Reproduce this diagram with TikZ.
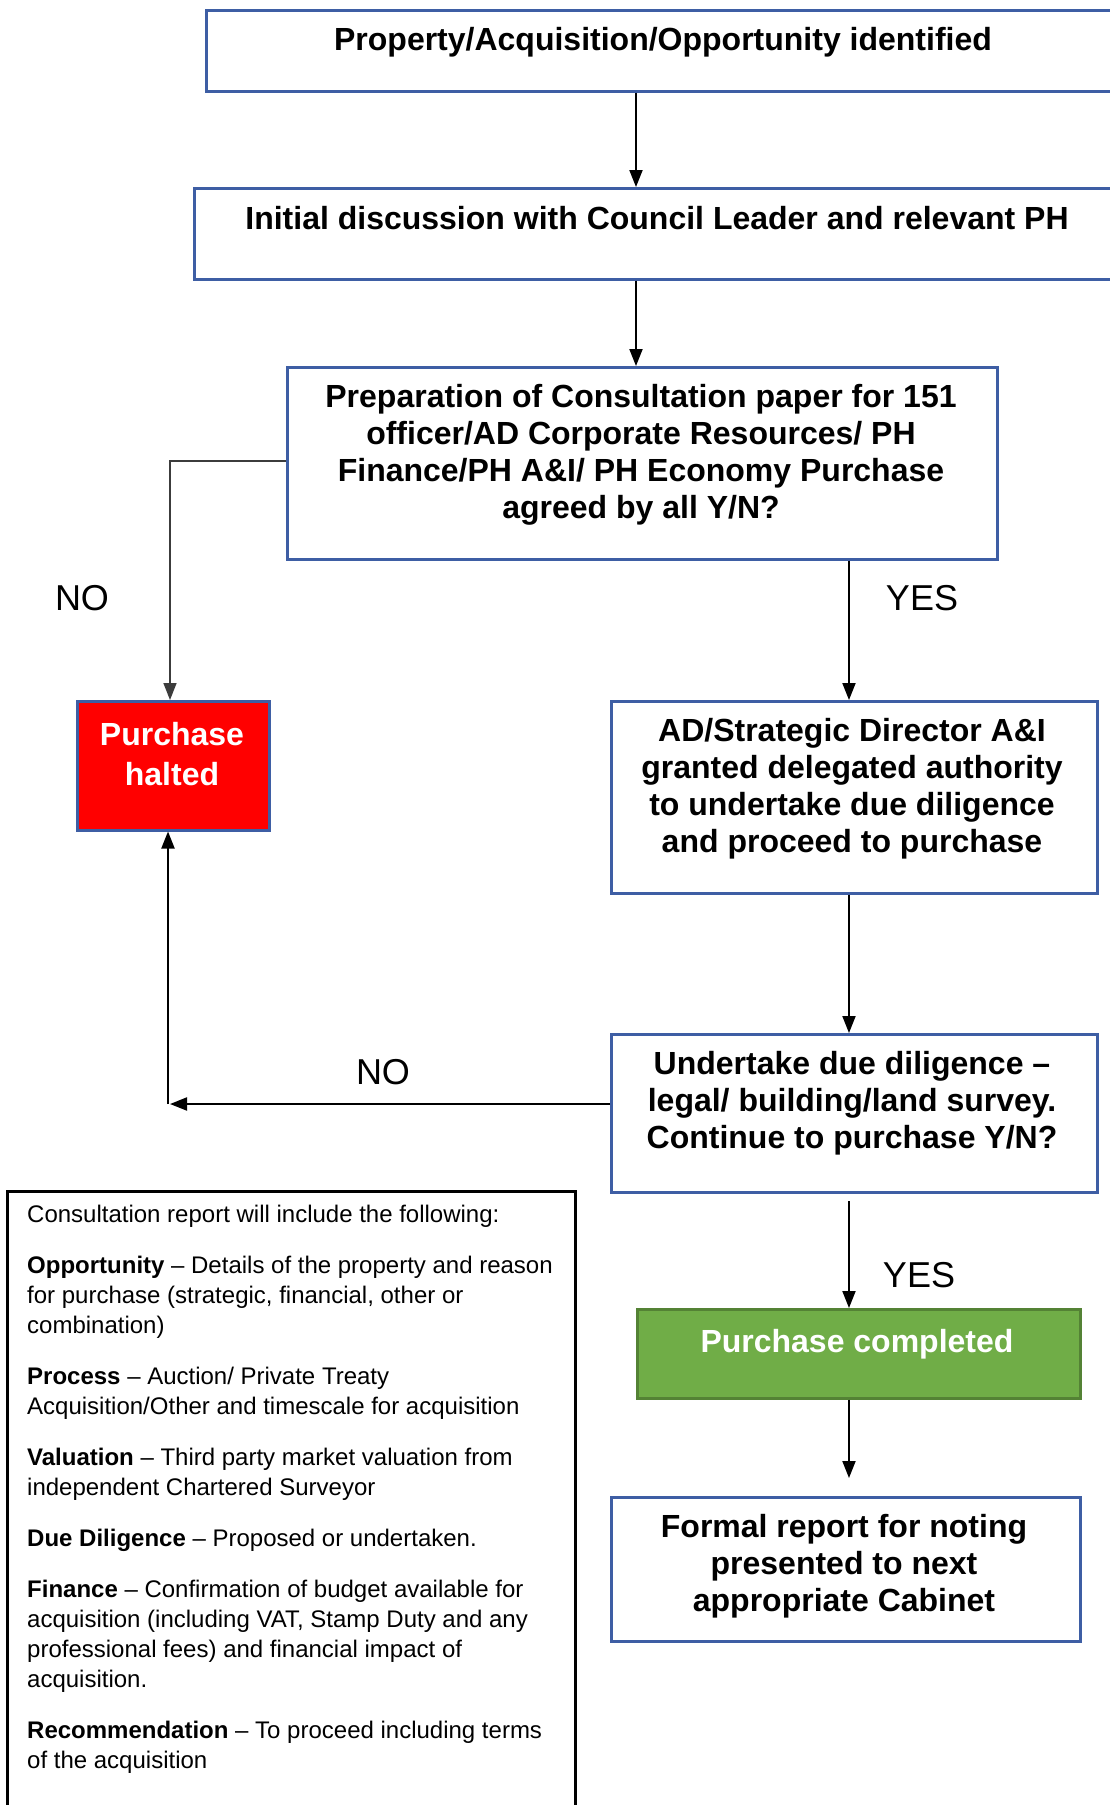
\documentclass[tikz,border=0pt]{standalone}
\usepackage{fontspec}
\setmainfont{Liberation Sans}
\usetikzlibrary{arrows.meta}
\definecolor{boxblue}{RGB}{62,94,164}
\definecolor{greenfill}{RGB}{112,173,71}
\definecolor{greenedge}{RGB}{84,130,53}
\definecolor{redfill}{RGB}{255,0,0}
\tikzset{
 bluebox/.style={draw=boxblue, line width=2.5pt, fill=white, rectangle, inner sep=0pt, anchor=north west},
 boxtext/.style={font=\bfseries\fontsize{32}{37}\selectfont, align=center, inner sep=0pt},
 lbl/.style={font=\fontsize{36}{40}\selectfont, inner sep=0pt},
 arr/.style={line width=2pt, -{Triangle[length=17pt,width=13pt]}},
}
\begin{document}
\begin{tikzpicture}[x=1pt,y=-1pt]
\useasboundingbox (0,0) rectangle (1110,1805);
\clip (0,0) rectangle (1110,1805);
\fill[white] (0,0) rectangle (1110,1805);
% boxes
\node[bluebox, minimum width=916pt, minimum height=81pt] (b1) at (205,9) {};
\node[bluebox, minimum width=928pt, minimum height=91pt] (b2) at (193,187) {};
\node[bluebox, minimum width=710pt, minimum height=192pt] (b3) at (286,366) {};
\node[bluebox, fill=redfill, minimum width=192pt, minimum height=129pt] (halt) at (76,700) {};
\node[bluebox, minimum width=486pt, minimum height=192pt] (ad) at (610,700) {};
\node[bluebox, minimum width=486pt, minimum height=158pt] (ud) at (610,1033) {};
\node[bluebox, draw=greenedge, fill=greenfill, minimum width=443pt, minimum height=89pt] (done) at (636,1308) {};
\node[bluebox, minimum width=469pt, minimum height=144pt] (formal) at (610,1496) {};
\node[draw=black, line width=3pt, rectangle, inner sep=0pt, anchor=north west, minimum width=568pt, minimum height=640pt] (cons) at (6,1190) {};
% texts
\node[boxtext] (t1) at (663,42) {Property/Acquisition/Opportunity identified};
\node[boxtext] (t2) at (657,218) {Initial discussion with Council Leader and relevant PH};
\node[boxtext] (t3) at (641,455) {Preparation of Consultation paper for 151\\officer/AD Corporate Resources/ PH\\Finance/PH A\&I/ PH Economy Purchase\\agreed by all Y/N?};
\node[boxtext, text=white, font=\bfseries\fontsize{32}{40}\selectfont] (th) at (172,754) {Purchase\\halted};
\node[boxtext] (tad) at (852,789) {AD/Strategic Director A\&I\\granted delegated authority\\to undertake due diligence\\and proceed to purchase};
\node[boxtext] (tud) at (852,1103) {Undertake due diligence --\\legal/ building/land survey.\\Continue to purchase Y/N?};
\node[boxtext, text=white] (tdone) at (857,1344) {Purchase completed};
\node[boxtext] (tf) at (844,1566) {Formal report for noting\\presented to next\\appropriate Cabinet};
\node[inner sep=0pt, anchor=north west, align=left, font=\fontsize{24}{30}\selectfont] (tc) at (27,1205) {Consultation report will include the following:\\[21pt]
\textbf{Opportunity} -- Details of the property and reason\\
for purchase (strategic, financial, other or\\
combination)\\[21pt]
\textbf{Process} -- Auction/ Private Treaty\\
Acquisition/Other and timescale for acquisition\\[21pt]
\textbf{Valuation} -- Third party market valuation from\\
independent Chartered Surveyor\\[21pt]
\textbf{Due Diligence} -- Proposed or undertaken.\\[21pt]
\textbf{Finance} -- Confirmation of budget available for\\
acquisition (including VAT, Stamp Duty and any\\
professional fees) and financial impact of\\
acquisition.\\[21pt]
\textbf{Recommendation} -- To proceed including terms\\
of the acquisition};
% labels
\node[lbl] (no1) at (82,598) {NO};
\node[lbl] (yes1) at (922,598) {YES};
\node[lbl] (no2) at (383,1072) {NO};
\node[lbl] (yes2) at (919,1275) {YES};
% connectors
\coordinate (x1) at (636,0);
\coordinate (x2) at (849,0);
\coordinate (kn) at (170,461);
\coordinate (kn2) at (170,1104);
\coordinate (g1) at (849,1201);
\coordinate (f1) at (849,1478);
\draw[arr] (b1.south -| x1) -- (b2.north -| x1);
\draw[arr] (b2.south -| x1) -- (b3.north -| x1);
\draw[line width=1.5pt, draw={rgb,255:red,60;green,60;blue,60}, -{Triangle[length=17pt,width=13pt]}] (b3.west |- kn) -- (kn) -- (kn |- halt.north);
\draw[arr] (b3.south -| x2) -- (ad.north -| x2);
\draw[arr] (ad.south -| x2) -- (ud.north -| x2);
\draw[arr] (ud.west |- kn2) -- (kn2);
\draw[arr] ([xshift=-2pt]kn2) -- ([xshift=-2pt]kn2 |- halt.south);
\draw[arr] (g1) -- (g1 |- done.north);
\draw[arr] (done.south -| f1) -- (f1);
\end{tikzpicture}
\end{document}
